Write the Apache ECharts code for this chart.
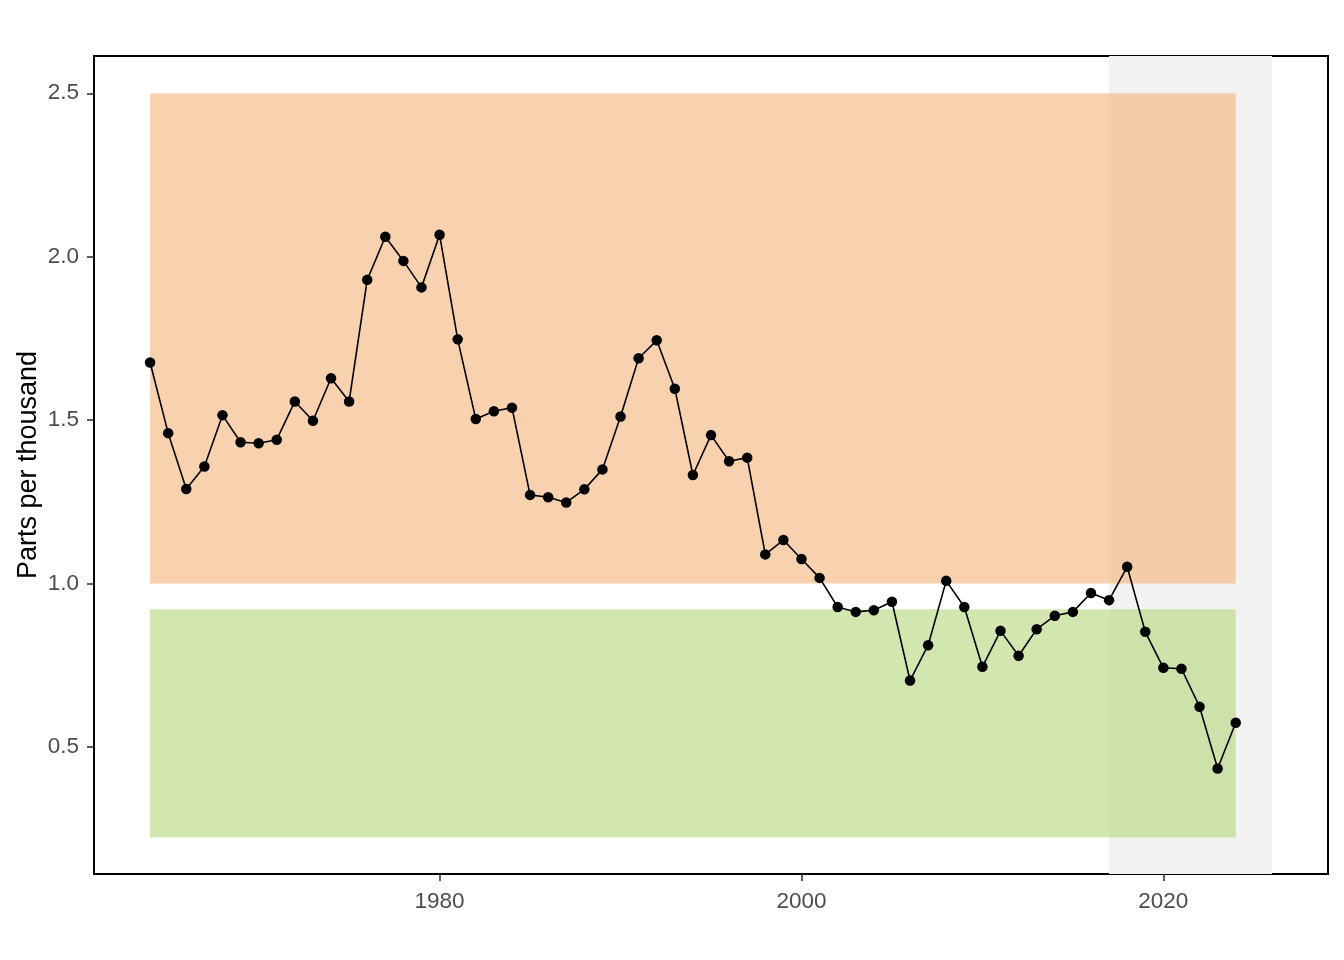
<!DOCTYPE html>
<html>
<head>
<meta charset="utf-8">
<title>Parts per thousand</title>
<script src="https://cdn.jsdelivr.net/npm/echarts@6/dist/echarts.min.js"></script>
<style>
  html, body { margin: 0; padding: 0; background: #fff; }
  #chart { width: 1344px; height: 960px; }
</style>
</head>
<body>
<div id="chart"></div>
<script>
// annual values
var years = [];
for (var y = 1964; y <= 2024; y++) years.push(y);

var values = [
  1.676, 1.460, 1.289, 1.358, 1.515, 1.432, 1.429, 1.440, 1.557, 1.498,
  1.628, 1.557, 1.929, 2.061, 1.987, 1.906, 2.067, 1.747, 1.503, 1.527,
  1.538, 1.271, 1.264, 1.248, 1.288, 1.349, 1.511, 1.689, 1.744, 1.596,
  1.332, 1.454, 1.374, 1.385, 1.089, 1.133, 1.075, 1.017, 0.928, 0.913,
  0.918, 0.944, 0.703, 0.811, 1.008, 0.928, 0.745, 0.855, 0.779, 0.860,
  0.901, 0.913, 0.971, 0.949, 1.051, 0.852, 0.742, 0.739, 0.623, 0.434,
  0.574
];

// shaded bands: [x0, x1, y0, y1]
var highBand = [1964, 2024, 1.0, 2.5];
var lowBand = [1964, 2024, 0.223, 0.921];
var recentBand = [2017, 2026];

var xTicks = [1980, 2000, 2020];
var yTicks = [0.5, 1.0, 1.5, 2.0, 2.5];

var textFont = '"Liberation Sans", Arial, sans-serif';

var chart = echarts.init(document.getElementById('chart'));

var option = {
  animation: false,
  backgroundColor: '#ffffff',
  grid: {
    left: 94,
    right: 16,
    top: 56,
    bottom: 86,
    show: true,
    borderColor: '#000000',
    borderWidth: 2,
    backgroundColor: 'transparent',
    outerBoundsMode: 'none'
  },
  xAxis: {
    type: 'value',
    min: 1960.9,
    max: 2029.1,
    axisLine: { show: false },
    splitLine: { show: false },
    axisTick: {
      show: true,
      length: 7,
      customValues: xTicks,
      lineStyle: { color: '#333333', width: 1.6 }
    },
    axisLabel: {
      customValues: xTicks,
      margin: 16,
      color: '#4d4d4d',
      fontSize: 22.5,
      fontFamily: textFont,
      formatter: function (v) { return String(v); }
    }
  },
  yAxis: {
    type: 'value',
    min: 0.111,
    max: 2.614,
    name: 'Parts per thousand',
    nameLocation: 'middle',
    nameGap: 52,
    nameMoveOverlap: false,
    nameTextStyle: {
      color: '#000000',
      fontSize: 27,
      fontFamily: textFont
    },
    axisLine: { show: false },
    splitLine: { show: false },
    axisTick: {
      show: true,
      length: 7,
      customValues: yTicks,
      lineStyle: { color: '#333333', width: 1.6 }
    },
    axisLabel: {
      customValues: yTicks,
      margin: 15,
      color: '#4d4d4d',
      fontSize: 22.5,
      fontFamily: textFont,
      formatter: function (v) { return v.toFixed(1); }
    }
  },
  series: [
    {
      // grey band behind everything
      type: 'line',
      data: [],
      z: 1,
      silent: true,
      markArea: {
        silent: true,
        itemStyle: { color: '#f2f2f2' },
        data: [[{ xAxis: recentBand[0] }, { xAxis: recentBand[1] }]]
      }
    },
    {
      type: 'line',
      data: [],
      z: 2,
      silent: true,
      markArea: {
        silent: true,
        data: [
          [
            { xAxis: highBand[0], yAxis: highBand[2], itemStyle: { color: 'rgba(243,178,120,0.6)' } },
            { xAxis: highBand[1], yAxis: highBand[3] }
          ],
          [
            { xAxis: lowBand[0], yAxis: lowBand[2], itemStyle: { color: 'rgba(180,213,122,0.6)' } },
            { xAxis: lowBand[1], yAxis: lowBand[3] }
          ]
        ]
      }
    },
    {
      type: 'line',
      z: 3,
      data: years.map(function (yr, i) { return [yr, values[i]]; }),
      symbol: 'circle',
      symbolSize: 10.5,
      showAllSymbol: true,
      itemStyle: { color: '#000000' },
      lineStyle: { color: '#000000', width: 1.6 }
    }
  ]
};

chart.setOption(option);
</script>
</body>
</html>
